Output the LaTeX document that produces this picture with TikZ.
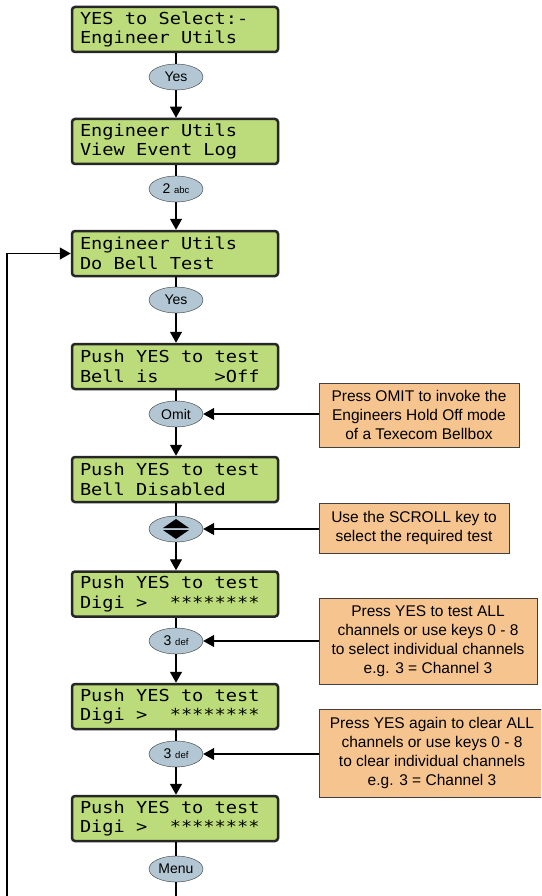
\documentclass[tikz,border=0pt]{standalone}
\usepackage{fontspec}
\setmainfont{Liberation Sans}
\newfontfamily\lcdfont[FakeStretch=1.13]{DejaVu Sans Mono}
\usetikzlibrary{arrows.meta,shapes.geometric}
\definecolor{lcdgreen}{RGB}{188,219,122}
\definecolor{keyblue}{RGB}{178,199,211}
\definecolor{noteorange}{RGB}{246,196,143}
\begin{document}
\begin{tikzpicture}[x=1pt, y=-1pt,
    lcd/.style={draw=black!85, line width=2.5pt, rounded corners=3pt, fill=lcdgreen,
        minimum width=206pt, minimum height=45pt, text width=190pt, align=left,
        inner xsep=8pt, font=\lcdfont\fontsize{16.5}{19.5}\selectfont,
        execute at begin node={\spaceskip=0pt\xspaceskip=0pt}},
    key/.style={draw=black!80, ellipse, fill=keyblue, minimum width=54pt,
        minimum height=26pt, inner sep=0pt, font=\fontsize{14}{14}\selectfont},
    note/.style={draw=black!75, fill=noteorange, align=center,
        font=\fontsize{15.5}{19}\selectfont, inner sep=2pt},
    arr/.style={-{Triangle[length=11pt,width=12pt]}, line width=1.3pt},
    con/.style={line width=1.3pt}]
    \useasboundingbox (0,0) rectangle (541,896);
    \clip (0,0) rectangle (541,896);
    % display screens
    \node[lcd] (l1) at (175,29.5) {YES to Select:-\\Engineer Utils};
    \node[lcd] (l2) at (175,141.5) {Engineer Utils\\View Event Log};
    \node[lcd] (l3) at (175,253.5) {Engineer Utils\\Do Bell Test};
    \node[lcd] (l4) at (175,366.5) {Push YES to test\\Bell is~~~~~>Off};
    \node[lcd] (l5) at (175,479.5) {Push YES to test\\Bell Disabled};
    \node[lcd] (l6) at (175,594) {Push YES to test\\Digi >~~********};
    \node[lcd] (l7) at (175,706.5) {Push YES to test\\Digi >~~********};
    \node[lcd] (l8) at (175,818.5) {Push YES to test\\Digi >~~********};
    % keys
    \node[key] (k1) at (176,77) {Yes};
    \node[key] (k2) at (176,189) {2 {\fontsize{9.5}{10}\selectfont abc}};
    \node[key] (k3) at (176,300) {Yes};
    \node[key] (k4) at (176,414) {Omit};
    \node[key] (k5) at (176,529) {};
    \node[key] (k6) at (176,641) {3 {\fontsize{9.5}{10}\selectfont def}};
    \node[key] (k7) at (176,754) {3 {\fontsize{9.5}{10}\selectfont def}};
    \node[key] (k8) at (176,869) {Menu};
    \fill (k5.center) ++(0,-10) -- ++(-13,9) -- ++(26,0) -- cycle;% scroll up
    \fill (k5.center) ++(0,10) -- ++(-13,-9) -- ++(26,0) -- cycle;% scroll down
    % notes
    \node[note, minimum width=200pt, minimum height=64pt] (nA) at (419,415)
        {Press OMIT to invoke the\\Engineers Hold Off mode\\of a Texecom Bellbox};
    \node[note, minimum width=190pt, minimum height=50pt] (nB) at (414,528)
        {Use the SCROLL key to\\select the required test};
    \node[note, minimum width=218pt, minimum height=86pt] (nC) at (428,641)
        {Press YES to test ALL\\channels or use keys 0 - 8\\to select individual channels\\e.g. 3 = Channel 3};
    \node[note, minimum width=226pt, minimum height=88pt] (nD) at (432,753)
        {Press YES again to clear ALL\\channels or use keys 0 - 8\\to clear individual channels\\e.g. 3 = Channel 3};
    % flow
    \foreach \i [evaluate=\i as \j using int(\i+1)] in {1,...,7} {
        \draw[con] (l\i.south -| k\i) -- (k\i);
        \draw[arr] (k\i) -- (k\i |- l\j.north);
    }
    \draw[con] (l8.south -| k8) -- (k8);
    \coordinate (loopb) at (7,910);
    \draw[arr] (k8) |- (loopb) |- (l3);
    \foreach \n/\k in {nA/k4, nB/k5, nC/k6, nD/k7}
        \draw[arr] (\n.west |- \k.east) -- (\k.east);
\end{tikzpicture}
\end{document}
